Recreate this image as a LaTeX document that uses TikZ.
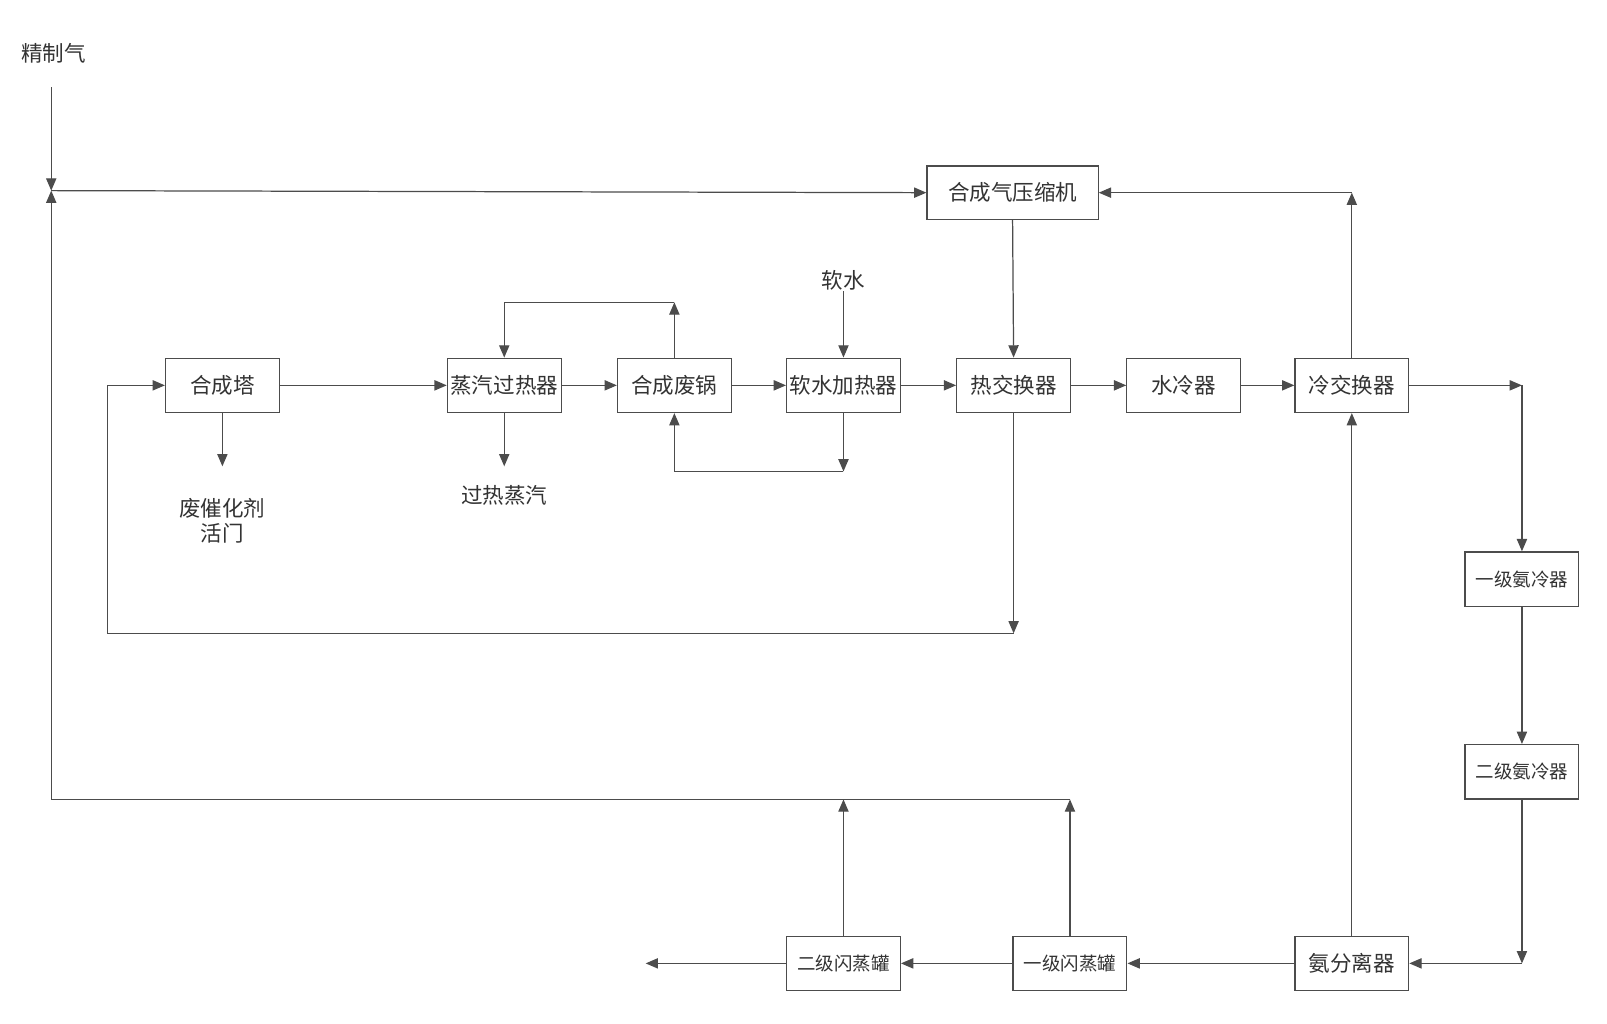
\documentclass[tikz,border=0pt]{standalone}
\usepackage{fontspec}
\setmainfont{Noto Sans CJK SC}
\usetikzlibrary{arrows.meta}
\begin{document}
\begin{tikzpicture}[x=0.5pt,y=-0.5pt,
  box/.style={draw=black!70, line width=0.6pt, minimum width=55.5pt, minimum height=26.5pt, inner sep=0pt, font=\fontsize{10.5}{12}\selectfont, text=black!80},
  sbox/.style={box, font=\fontsize{9}{11}\selectfont},
  lbl/.style={font=\fontsize{10.5}{12}\selectfont, text=black!80, inner sep=0pt, align=center},
  arr/.style={draw=black!70, line width=0.6pt, -{Triangle[length=6pt,width=5pt]}},
  ln/.style={draw=black!70, line width=0.6pt}]
\useasboundingbox[fill=white] (0,0) rectangle (1568,999);

% nodes
\node[lbl] (jing) at (52,52) {精制气};
\node[box, minimum width=83.5pt, minimum height=26pt] (comp) at (988,188) {合成气压缩机};
\node[box] (hct) at (217,376) {合成塔};
\node[box] (zq) at (492,376) {蒸汽过热器};
\node[box] (fg) at (658,376) {合成废锅};
\node[box] (rs) at (823,376) {软水加热器};
\node[box] (rj) at (989,376) {热交换器};
\node[box] (sl) at (1155,376) {水冷器};
\node[box] (lj) at (1319,376) {冷交换器};
\node[sbox] (a1) at (1485,565) {一级氨冷器};
\node[sbox] (a2) at (1485,753) {二级氨冷器};
\node[box] (af) at (1319,940) {氨分离器};
\node[sbox] (s1) at (1044,940) {一级闪蒸罐};
\node[sbox] (s2) at (823,940) {二级闪蒸罐};
\node[lbl] (rsw) at (823,274) {软水};
\node[lbl] (fcat) at (217,508) {废催化剂\\活门};
\node[lbl] (grzq) at (492,483) {过热蒸汽};

% coordinates
\coordinate (jtop) at (50,85);
\coordinate (J) at (50,186);
\coordinate (lb) at (50,780);
\coordinate (cr) at (1319,188);
\coordinate (cR) at (1485,376);
\coordinate (cB) at (1485,940);
\coordinate (out) at (630,940);
\coordinate (b1) at (1044,780);
\coordinate (b2) at (823,780);
\coordinate (t1) at (658,295);
\coordinate (t2) at (823,460);
\coordinate (h1) at (217,455);
\coordinate (h2) at (492,455);
\coordinate (c3) at (989,618);
\coordinate (c4) at (105,618);

% connectors
\draw[arr] (jtop) -- (J);
\draw[arr] (lb) -- (J);
\draw[arr] (J) -- (comp.west);
\draw[arr] (lj.north) -- (cr);
\draw[arr] (cr) -- (comp.east);
\draw[arr] (comp.south) -- (rj.north);

\draw[arr] (hct.east) -- (zq.west);
\draw[arr] (zq.east) -- (fg.west);
\draw[arr] (fg.east) -- (rs.west);
\draw[arr] (rs.east) -- (rj.west);
\draw[arr] (rj.east) -- (sl.west);
\draw[arr] (sl.east) -- (lj.west);

\draw[arr] (lj.east) -- (cR);
\draw[arr] (cR) -- (a1.north);
\draw[arr] (a1.south) -- (a2.north);
\draw[arr] (a2.south) -- (cB);
\draw[arr] (cB) -- (af.east);
\draw[arr] (af.north) -- (lj.south);
\draw[arr] (af.west) -- (s1.east);
\draw[arr] (s1.west) -- (s2.east);
\draw[arr] (s2.west) -- (out);

\draw[arr] (s1.north) -- (b1);
\draw[arr] (s2.north) -- (b2);
\draw[ln] (b1) -- (lb);

\draw[arr] (fg.north) -- (t1);
\draw[arr] (t1) -| (zq.north);
\draw[arr] (rs.south) -- (t2);
\draw[arr] (t2) -| (fg.south);
\draw[arr] (rsw) -- (rs.north);
\draw[arr] (hct.south) -- (h1);
\draw[arr] (zq.south) -- (h2);

\draw[arr] (rj.south) -- (c3);
\draw[arr] (c3) -- (c4) |- (hct.west);
\end{tikzpicture}
\end{document}
